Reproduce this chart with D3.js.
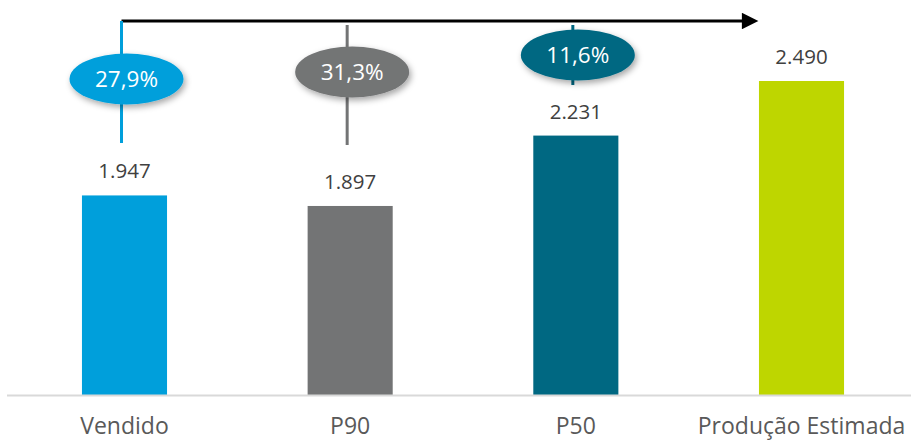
<!DOCTYPE html>
<html>
<head>
<meta charset="utf-8">
<script src="https://cdn.jsdelivr.net/npm/d3@7"></script>
<style>
  html, body { margin: 0; padding: 0; background: #fff; }
  #chart { width: 911px; height: 443px; }
  text { font-family: "Open Sans", "Noto Sans", sans-serif; }
</style>
</head>
<body>
<div id="chart"></div>
<script>
// dados
const categories = ["Vendido", "P90", "P50", "Produção Estimada"];
const values = [1947, 1897, 2231, 2490];
const valueLabels = ["1.947", "1.897", "2.231", "2.490"];
const colors = ["#009FDB", "#737475", "#006882", "#BED600"];
// diferença para a produção estimada
const gapLabels = ["27,9%", "31,3%", "11,6%"];

const width = 911, height = 443;
const svg = d3.select("#chart").append("svg")
    .attr("width", width)
    .attr("height", height);

// sombra das elipses
const defs = svg.append("defs");
defs.append("filter")
    .attr("id", "shadow")
    .attr("x", "-30%").attr("y", "-40%")
    .attr("width", "160%").attr("height", "190%")
  .append("feDropShadow")
    .attr("dx", 2).attr("dy", 3)
    .attr("stdDeviation", 3)
    .attr("flood-color", "#000")
    .attr("flood-opacity", 0.35);
defs.append("marker")
    .attr("id", "arrow")
    .attr("viewBox", "0 0 10 10")
    .attr("refX", 1).attr("refY", 5)
    .attr("markerWidth", 6).attr("markerHeight", 5.5)
    .attr("markerUnits", "strokeWidth")
    .attr("orient", "auto")
  .append("path")
    .attr("d", "M0,0 L10,5 L0,10 Z")
    .attr("fill", "#000");

const x = d3.scaleBand()
    .domain(categories)
    .range([12, 914])
    .paddingInner(0.623)
    .paddingOuter(0.31);

const y = d3.scaleLinear()
    .domain([1000, 2490])
    .range([395, 81]);

// barras
svg.append("g")
    .selectAll("rect")
    .data(categories)
    .join("rect")
    .attr("x", d => x(d))
    .attr("width", x.bandwidth())
    .attr("y", (d, i) => y(values[i]))
    .attr("height", (d, i) => y(1000) - y(values[i]))
    .attr("fill", (d, i) => colors[i]);

// eixo
svg.append("line")
    .attr("x1", 7).attr("x2", 911)
    .attr("y1", y(1000) + 0.5).attr("y2", y(1000) + 0.5)
    .attr("stroke", "#d9d9d9")
    .attr("stroke-width", 2);

svg.append("g")
    .selectAll("text")
    .data(categories)
    .join("text")
    .attr("x", d => x(d) + x.bandwidth() / 2)
    .attr("y", 434)
    .attr("text-anchor", "middle")
    .attr("font-size", 23)
    .attr("fill", "#595959")
    .text(d => d);

// rótulos de valor
svg.append("g")
    .selectAll("text")
    .data(categories)
    .join("text")
    .attr("x", d => x(d) + x.bandwidth() / 2)
    .attr("y", (d, i) => y(values[i]) - 17)
    .attr("text-anchor", "middle")
    .attr("font-size", 20.5)
    .attr("fill", "#404040")
    .text((d, i) => valueLabels[i]);

// seta
const cx = d => x(d) + x.bandwidth() / 2;
svg.append("line")
    .attr("x1", cx(categories[0]) - 3)
    .attr("x2", cx(categories[3]) - 58)
    .attr("y1", 21).attr("y2", 21)
    .attr("stroke", "#000")
    .attr("stroke-width", 3)
    .attr("marker-end", "url(#arrow)");

// linhas e elipses
const lineTop = [21, 25, 25];
const lineBottom = [143, 145, 85];
const ellipseY = [79, 72, 55];
const ann = svg.append("g");
gapLabels.forEach((lab, i) => {
    const c = categories[i];
    ann.append("line")
        .attr("x1", cx(c) - 3).attr("x2", cx(c) - 3)
        .attr("y1", lineTop[i]).attr("y2", lineBottom[i])
        .attr("stroke", colors[i])
        .attr("stroke-width", 3);
    ann.append("ellipse")
        .attr("cx", cx(c) + 2)
        .attr("cy", ellipseY[i])
        .attr("rx", 57)
        .attr("ry", 25.5)
        .attr("fill", colors[i])
        .attr("filter", "url(#shadow)");
    ann.append("text")
        .attr("x", cx(c) + 2)
        .attr("y", ellipseY[i] + 8)
        .attr("text-anchor", "middle")
        .attr("font-size", 22.5)
        .attr("fill", "#fff")
        .text(lab);
});
</script>
</body>
</html>
